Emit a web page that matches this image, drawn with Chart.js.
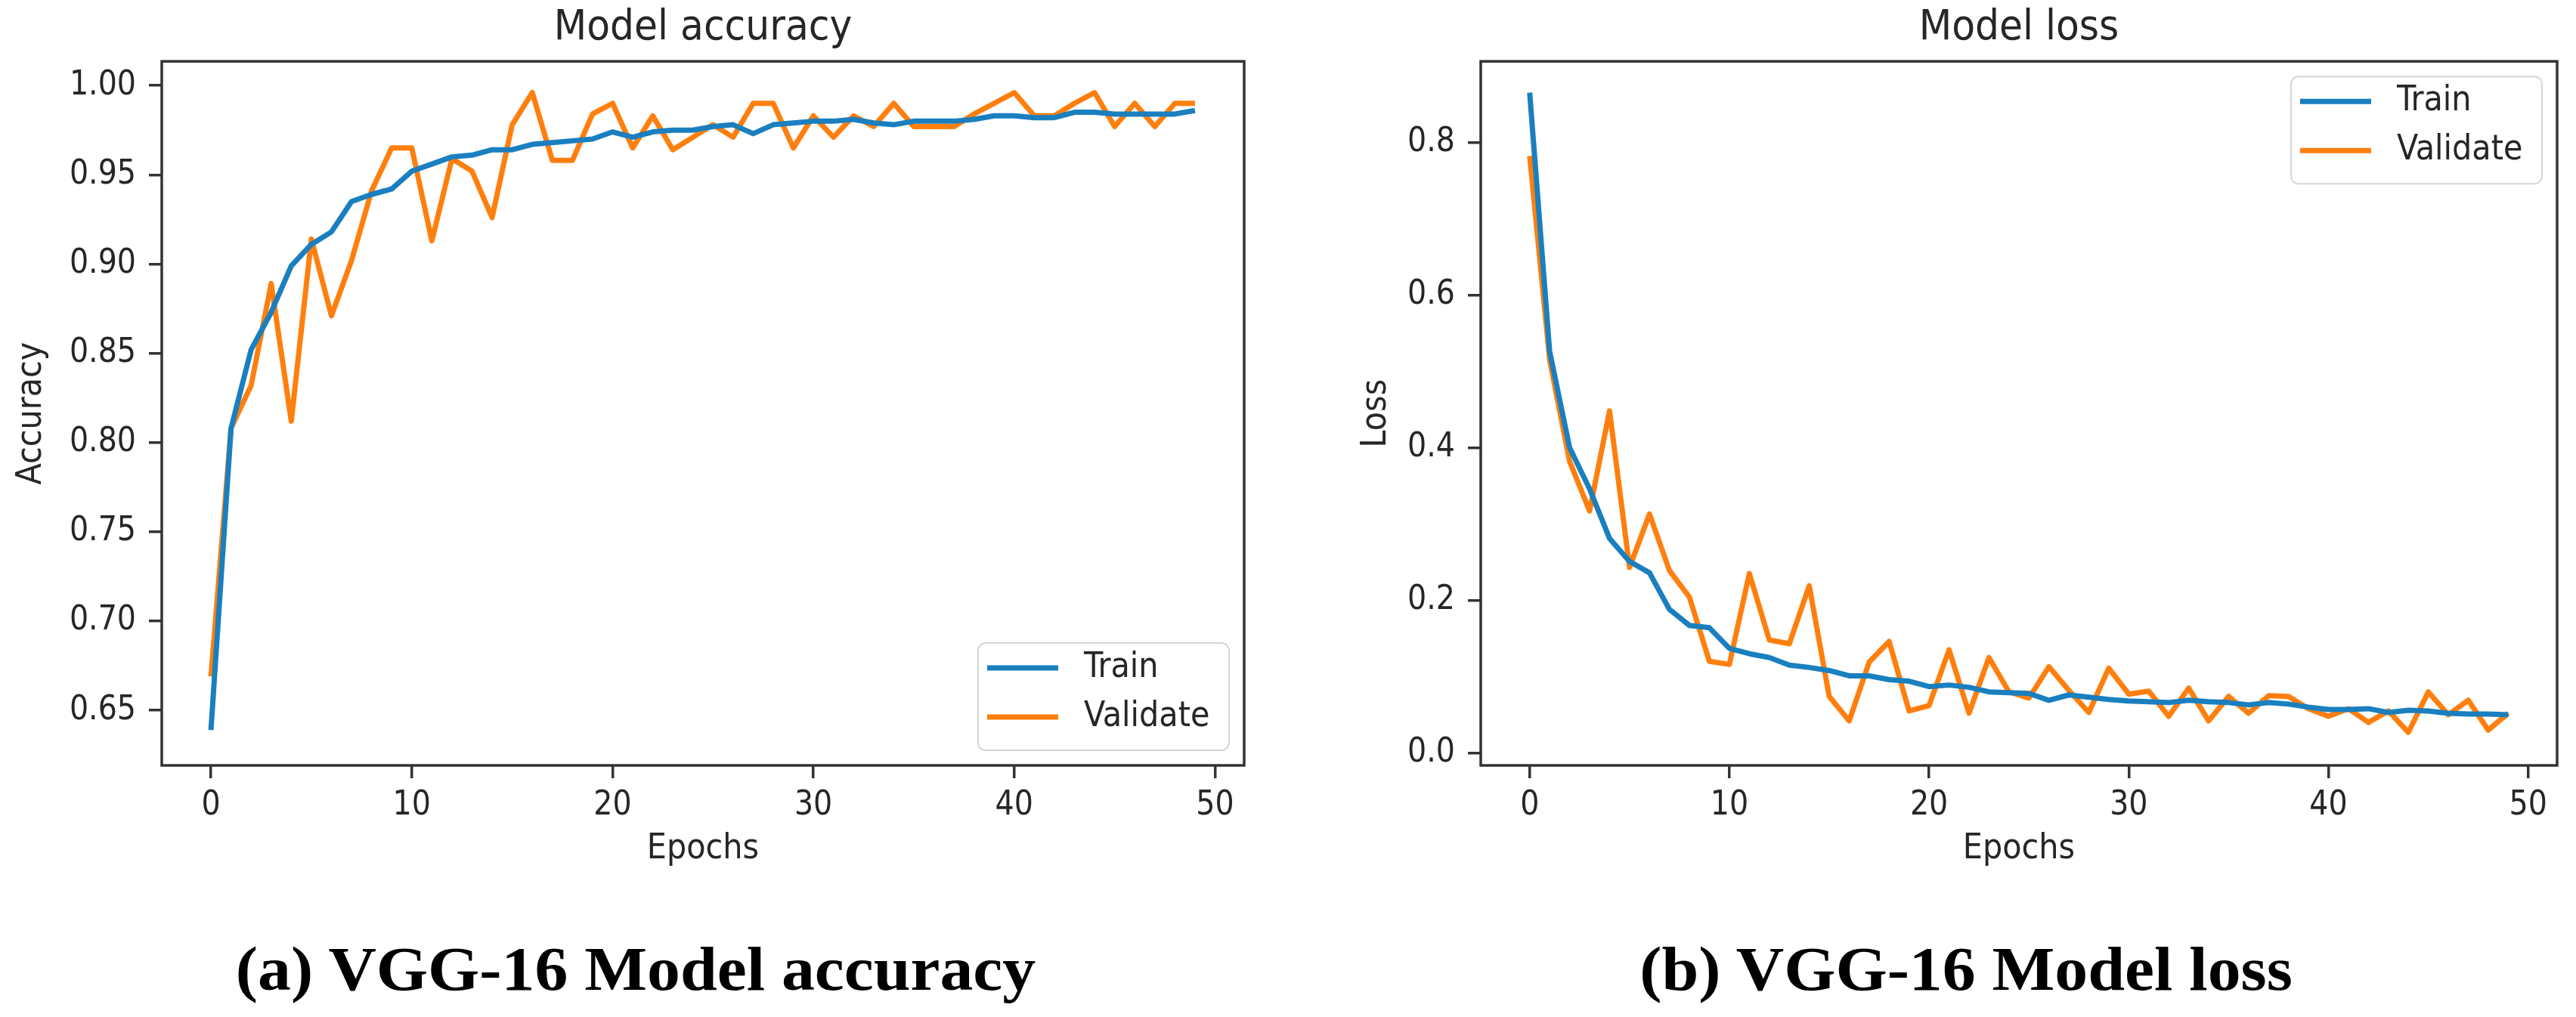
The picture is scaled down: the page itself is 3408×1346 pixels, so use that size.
<!DOCTYPE html>
<html>
<head>
<meta charset="utf-8">
<title>VGG-16 accuracy and loss</title>
<script src="https://cdn.jsdelivr.net/npm/chart.js@4.4.1/dist/chart.umd.min.js"></script>
<style>
  html, body { margin: 0; padding: 0; background: #fff; }
  body { width: 3408px; height: 1346px; position: relative; overflow: hidden; }
  canvas { position: absolute; top: 0; }
  #accChart { left: 0; }
  #lossChart { left: 1704px; }
  .caption {
    position: absolute; top: 1242px; width: 1200px;
    text-align: center; white-space: nowrap; color: #000;
    font: bold 82px "Liberation Serif", "Times New Roman", serif; line-height: 82px;
    transform: scaleX(1.07); transform-origin: 50% 50%;
  }
</style>
</head>
<body>
<canvas id="accChart" width="1704" height="1346"></canvas>
<canvas id="lossChart" width="1704" height="1346"></canvas>
<div class="caption" style="left:241px">(a) VGG-16 Model accuracy</div>
<div class="caption" style="left:2001px">(b) VGG-16 Model loss</div>
<script>
const epochs = [0, 1, 2, 3, 4, 5, 6, 7, 8, 9, 10, 11, 12, 13, 14, 15, 16, 17, 18, 19,
  20, 21, 22, 23, 24, 25, 26, 27, 28, 29, 30, 31, 32, 33, 34, 35, 36, 37, 38, 39,
  40, 41, 42, 43, 44, 45, 46, 47, 48, 49];

const trainAcc = [0.639, 0.808, 0.852, 0.873, 0.899, 0.911, 0.918, 0.935, 0.939, 0.942,
  0.952, 0.956, 0.960, 0.961, 0.964, 0.964, 0.967, 0.968, 0.969, 0.970,
  0.974, 0.971, 0.974, 0.975, 0.975, 0.977, 0.978, 0.973, 0.978, 0.979,
  0.980, 0.980, 0.981, 0.979, 0.978, 0.980, 0.980, 0.980, 0.981, 0.983,
  0.983, 0.982, 0.982, 0.985, 0.985, 0.984, 0.984, 0.984, 0.984, 0.986];
const valAcc = [0.669, 0.808, 0.832, 0.889, 0.812, 0.914, 0.871, 0.902, 0.941, 0.965,
  0.965, 0.913, 0.959, 0.952, 0.926, 0.978, 0.996, 0.958, 0.958, 0.984,
  0.990, 0.965, 0.983, 0.964, 0.971, 0.978, 0.971, 0.990, 0.990, 0.965,
  0.983, 0.971, 0.983, 0.977, 0.990, 0.977, 0.977, 0.977, 0.984, 0.990,
  0.996, 0.983, 0.983, 0.990, 0.996, 0.977, 0.990, 0.977, 0.990, 0.990];

const trainLoss = [0.865, 0.526, 0.400, 0.346, 0.281, 0.251, 0.236, 0.188, 0.167, 0.164,
  0.137, 0.130, 0.125, 0.115, 0.112, 0.108, 0.101, 0.101, 0.096, 0.094,
  0.087, 0.089, 0.086, 0.080, 0.079, 0.078, 0.069, 0.076, 0.073, 0.070,
  0.068, 0.067, 0.066, 0.069, 0.067, 0.066, 0.063, 0.066, 0.064, 0.060,
  0.057, 0.057, 0.058, 0.053, 0.056, 0.055, 0.052, 0.051, 0.051, 0.050];
const valLoss = [0.782, 0.515, 0.382, 0.317, 0.448, 0.243, 0.313, 0.239, 0.204, 0.120,
  0.116, 0.235, 0.148, 0.143, 0.219, 0.074, 0.042, 0.119, 0.146, 0.055,
  0.062, 0.135, 0.052, 0.125, 0.080, 0.072, 0.113, 0.082, 0.053, 0.111,
  0.077, 0.081, 0.048, 0.085, 0.042, 0.074, 0.052, 0.075, 0.074, 0.058,
  0.048, 0.058, 0.040, 0.055, 0.027, 0.080, 0.050, 0.069, 0.030, 0.052];

const seriesNames = ['Train', 'Validate'];
const epochTicks = [0, 10, 20, 30, 40, 50];
const accTicks = [0.65, 0.70, 0.75, 0.80, 0.85, 0.90, 0.95, 1.00];
const lossTicks = [0.0, 0.2, 0.4, 0.6, 0.8];

const BLUE = '#1a7fbf';
const ORANGE = '#ff7f0e';
const INK = '#262626';
const FONT = '"DejaVu Sans Condensed", "DejaVu Sans", sans-serif';

function pairs(values) {
  return values.map((v, i) => ({ x: epochs[i], y: v }));
}

// matplotlib-style box around the axes plus the framed legend
const framePlugin = {
  id: 'frame',
  afterDraw(chart, args, opts) {
    const { ctx, chartArea: a } = chart;
    ctx.save();
    ctx.strokeStyle = '#333';
    ctx.lineWidth = 3.5;
    ctx.strokeRect(a.left, a.top, a.right - a.left, a.bottom - a.top);

    const w = 332, h = 142, pad = 20;
    const x = a.right - pad - w;
    const y = opts.corner === 'top' ? a.top + pad : a.bottom - pad - h;
    ctx.beginPath();
    ctx.roundRect(x, y, w, h, 10);
    ctx.fillStyle = 'rgba(255,255,255,0.8)';
    ctx.fill();
    ctx.strokeStyle = '#d6d6d6';
    ctx.lineWidth = 2;
    ctx.stroke();

    ctx.font = `46px ${FONT}`;
    ctx.textBaseline = 'middle';
    chart.data.datasets.forEach((ds, i) => {
      const ry = y + 33 + i * 65;
      ctx.strokeStyle = ds.borderColor;
      ctx.lineWidth = 7;
      ctx.beginPath();
      ctx.moveTo(x + 12, ry);
      ctx.lineTo(x + 106, ry);
      ctx.stroke();
      ctx.fillStyle = INK;
      ctx.fillText(ds.label, x + 140, ry);
    });
    ctx.restore();
  }
};

function makeChart(id, cfg) {
  const tickGrid = { drawOnChartArea: false, drawTicks: true, tickLength: 17, lineWidth: 3.5, color: '#333' };
  return new Chart(document.getElementById(id), {
    type: 'line',
    data: {
      datasets: [
        { label: seriesNames[0], data: pairs(cfg.train), borderColor: BLUE, backgroundColor: BLUE },
        { label: seriesNames[1], data: pairs(cfg.val), borderColor: ORANGE, backgroundColor: ORANGE }
      ]
    },
    options: {
      responsive: false,
      animation: false,
      devicePixelRatio: 1,
      layout: { padding: { left: 0, top: 0, right: cfg.padRight, bottom: 183 } },
      elements: {
        point: { radius: 0 },
        line: { tension: 0, borderWidth: 7, borderJoinStyle: 'round' }
      },
      plugins: {
        legend: { display: false },
        tooltip: { enabled: false },
        title: {
          display: true, text: cfg.title, fullSize: false, color: INK,
          font: { family: FONT, size: 56, weight: 'normal' },
          padding: { top: 4, bottom: 10 }
        },
        frame: { corner: cfg.legendCorner }
      },
      scales: {
        x: {
          type: 'linear', min: -2.45, max: 51.45,
          border: { display: false },
          grid: tickGrid,
          ticks: { color: INK, font: { family: FONT, size: 44 }, padding: 10, callback: v => String(v) },
          afterBuildTicks: s => { s.ticks = epochTicks.map(v => ({ value: v })); },
          afterFit: s => { s.height = 150; },
          title: { display: true, text: 'Epochs', color: INK, font: { family: FONT, size: 46 }, padding: { top: 0, bottom: 11 } }
        },
        y: {
          type: 'linear', min: cfg.yMin, max: cfg.yMax,
          border: { display: false },
          grid: tickGrid,
          ticks: { color: INK, font: { family: FONT, size: 44 }, padding: 17, callback: v => v.toFixed(cfg.digits) },
          afterBuildTicks: s => { s.ticks = cfg.yTicks.map(v => ({ value: v })); },
          afterFit: s => { s.width = cfg.yWidth; },
          title: { display: true, text: cfg.yLabel, color: INK, font: { family: FONT, size: 46 }, padding: { top: cfg.yTitlePad } }
        }
      }
    },
    plugins: [framePlugin]
  });
}

makeChart('accChart', {
  title: 'Model accuracy', yLabel: 'Accuracy',
  train: trainAcc, val: valAcc,
  yMin: 0.6192, yMax: 1.0135, yTicks: accTicks, digits: 2,
  yWidth: 214, yTitlePad: 14, padRight: 58, legendCorner: 'bottom'
});

makeChart('lossChart', {
  title: 'Model loss', yLabel: 'Loss',
  train: trainLoss, val: valLoss,
  yMin: -0.0163, yMax: 0.906, yTicks: lossTicks, digits: 1,
  yWidth: 255, yTitlePad: 89, padRight: 25, legendCorner: 'top'
});
</script>
</body>
</html>
